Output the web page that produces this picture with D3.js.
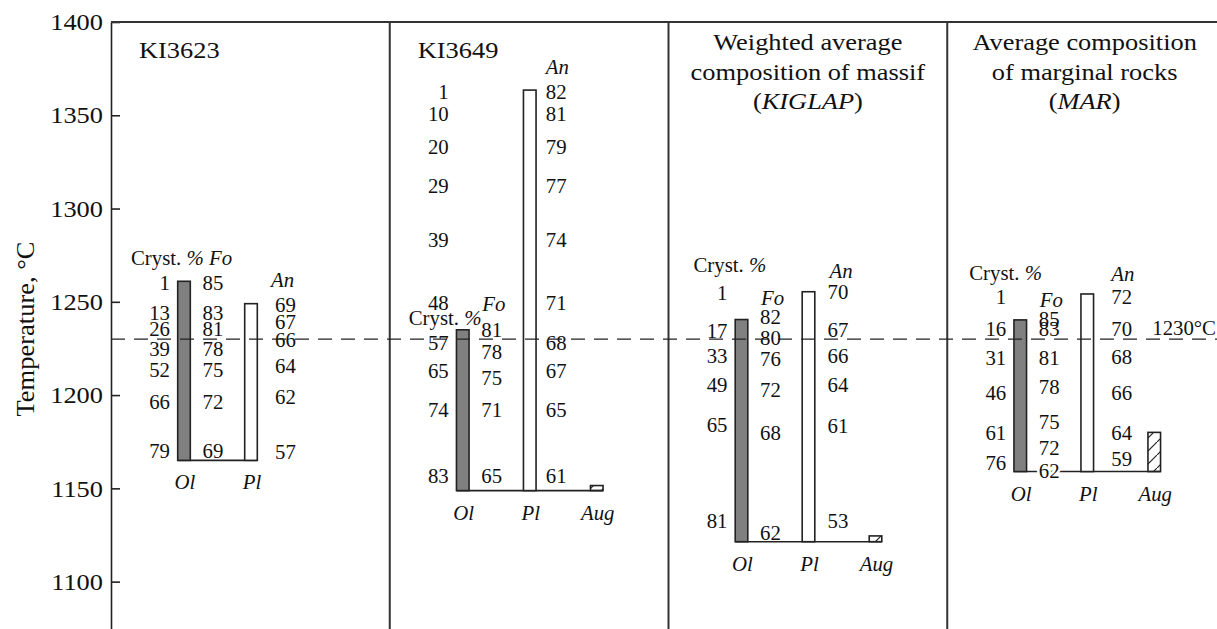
<!DOCTYPE html>
<html>
<head>
<meta charset="utf-8">
<script src="https://cdn.jsdelivr.net/npm/d3@7"></script>
<style>
  html, body { margin: 0; padding: 0; background: #fff; }
  svg { display: block; font-family: "Liberation Serif", "Times New Roman", Times, serif; }
</style>
</head>
<body>
<svg id="chart" width="1217" height="629"></svg>
<script>
// ---- data ---------------------------------------------------------------
const panelIds = ["KI3623", "KI3649", "KIGLAP", "MAR"];
const minerals = ["Ol", "Pl", "Aug"];
const tempTicks = [1100, 1150, 1200, 1250, 1300, 1350, 1400];
const refTemp = 1230;

// liquidus (top) and end (base) temperatures of each mineral column, °C
const olTopT  = [1261, 1235, 1240.5, 1240.3];
const plTopT  = [1249, 1363.5, 1255.4, 1254.2];
const augTopT = [null, 1151.5, 1124.5, 1180];
const baseT   = [1165, 1148.8, 1121.4, 1159];

// degree of crystallization (%) and the temperatures it is reached at
const crystPct = [
  [1, 13, 26, 39, 52, 66, 79],
  [1, 10, 20, 29, 39, 48, 57, 65, 74, 83],
  [1, 17, 33, 49, 65, 81],
  [1, 16, 31, 46, 61, 76]
];
const crystT = [
  [1260.3, 1244, 1235.4, 1224.7, 1213.4, 1196.5, 1170.2],
  [1362.6, 1350.7, 1333.2, 1312.3, 1283.2, 1249.5, 1227.8, 1213.1, 1192, 1156.7],
  [1254.6, 1234.4, 1221, 1205.5, 1184, 1132.7],
  [1252.4, 1235.2, 1219.7, 1201, 1179.5, 1163.8]
];

// olivine composition (Fo) along the column
const foValues = [
  [85, 83, 81, 78, 75, 72, 69],
  [81, 78, 75, 71, 65],
  [82, 80, 76, 72, 68, 62],
  [85, 83, 81, 78, 75, 72, 62]
];
const foT = [
  [1260.3, 1244, 1235.4, 1224.7, 1213.4, 1196.5, 1170.2],
  [1234.9, 1223.3, 1209, 1192, 1156.7],
  [1242, 1230.5, 1219.2, 1202.8, 1179.9, 1126.3],
  [1240.8, 1235.2, 1219.7, 1204.2, 1185.8, 1171.5, 1159.5]
];

// plagioclase composition (An) along the column
const anValues = [
  [69, 67, 66, 64, 62, 57],
  [82, 81, 79, 77, 74, 71, 68, 67, 65, 61],
  [70, 67, 66, 64, 61, 53],
  [72, 70, 68, 66, 64, 59]
];
const anT = [
  [1248.3, 1239.4, 1229.6, 1215.6, 1199.2, 1169.7],
  [1362.6, 1350.7, 1333.2, 1312.3, 1283.2, 1249.5, 1227.8, 1213.1, 1192, 1156.7],
  [1255.1, 1234.9, 1221, 1205.5, 1183.5, 1132.7],
  [1252.4, 1235.2, 1220.3, 1201, 1179.5, 1165.6]
];

// ---- layout ---------------------------------------------------------------
const W = 1217, H = 629;
const axisX = 111, topY = 22;
const barW = 12.6;
const ink = "#222";
const txt = "#111";
const wide = 1.1;      // horizontal stretch of the serif lettering
const valWide = 1.04;

const panelLayout = [
  { title: [{ t: "KI3623" }], titleMode: "left",
    crystHdr: { dx: -53, y: 258, withFo: true }, foHdrY: null, anHdr: { dx: 20, y: 280 }, anDx: 24 },
  { title: [{ t: "KI3649" }], titleMode: "left",
    crystHdr: { dx: -54, y: 318 }, foHdrY: 304, anHdr: { dx: 16, y: 67 }, anDx: 16 },
  { title: [{ t: "Weighted average" }, { t: "composition of massif" }, { t: "(", i: "KIGLAP", e: ")" }], titleMode: "center",
    crystHdr: { dx: -48, y: 265 }, foHdrY: 298, anHdr: { dx: 21, y: 271 }, anDx: 19 },
  { title: [{ t: "Average composition" }, { t: "of marginal rocks" }, { t: "(", i: "MAR", e: ")" }], titleMode: "center",
    crystHdr: { dx: -51, y: 273 }, foHdrY: 300, anHdr: { dx: 24, y: 274 }, anDx: 24 }
];

const svg = d3.select("#chart");

const y = d3.scaleLinear().domain([1074.6, 1400]).range([H, topY]);
const xPanel = d3.scaleBand().domain(panelIds).range([axisX, 1226]).padding(0);
const xMin = d3.scalePoint().domain(minerals).range([73, 207]);

// text placed at (x, y) and stretched horizontally about that point
function stext(g, x, yy, size, anchor, sx) {
  return g.append("text")
    .attr("transform", `translate(${x},${yy}) scale(${sx},1)`)
    .attr("text-anchor", anchor)
    .attr("font-size", size).attr("fill", txt);
}

// hatch for augite
const defs = svg.append("defs");
const pat = defs.append("pattern")
  .attr("id", "hatch").attr("patternUnits", "userSpaceOnUse")
  .attr("width", 13).attr("height", 13);
pat.append("path").attr("d", "M-1,14 L14,-1").attr("stroke", ink).attr("stroke-width", 1.2);

// ---- axis ---------------------------------------------------------------
const axis = d3.axisLeft(y)
  .tickValues(tempTicks)
  .tickFormat(d3.format("d"))
  .tickSizeInner(-9)
  .tickSizeOuter(0)
  .tickPadding(8);

const gAxis = svg.append("g").attr("transform", `translate(${axisX},0)`).call(axis);
gAxis.select(".domain").attr("stroke", ink).attr("stroke-width", 1.6);
gAxis.selectAll(".tick line").attr("stroke", ink).attr("stroke-width", 1.6);
gAxis.selectAll(".tick text")
  .attr("fill", txt).attr("font-size", 24)
  .attr("font-family", "'Liberation Serif', 'Times New Roman', serif")
  .attr("transform", `scale(${wide},1)`)
  .attr("x", -8 / wide);

stext(svg, 34, 329, 25, "middle", 1.06)
  .attr("transform", `translate(34,329) rotate(-90) scale(1.06,1)`)
  .text("Temperature, °C");

// top frame and panel dividers
svg.append("line")
  .attr("x1", axisX).attr("x2", W).attr("y1", y(1400)).attr("y2", y(1400))
  .attr("stroke", "#333").attr("stroke-width", 2);
panelIds.slice(1).forEach(id => {
  const x = xPanel(id);
  svg.append("line")
    .attr("x1", x).attr("x2", x).attr("y1", y(1400)).attr("y2", H)
    .attr("stroke", "#333").attr("stroke-width", 2);
});

// ---- panels -------------------------------------------------------------
function label(g, x, yy, s, anchor, italic) {
  return stext(g, x, yy, 20, anchor, valWide)
    .attr("dy", "0.35em")
    .attr("font-style", italic ? "italic" : null)
    .text(s);
}

panelIds.forEach((id, p) => {
  const g = svg.append("g").attr("class", "panel");
  const x0 = xPanel(id);
  const L = panelLayout[p];
  const cx = m => x0 + xMin(m);
  const yBase = y(baseT[p]);

  // title
  if (L.titleMode === "left") {
    stext(g, x0 + 28, 58, 24, "start", wide).text(L.title[0].t);
  } else {
    const tc = x0 + xPanel.bandwidth() / 2 - (p === 3 ? 2 : 0);
    L.title.forEach((ln, k) => {
      const t = stext(g, tc, 50 + k * 29.5, 24, "middle", wide);
      t.append("tspan").text(ln.t);
      if (ln.i) {
        t.append("tspan").attr("font-style", "italic").text(ln.i);
        t.append("tspan").text(ln.e);
      }
    });
  }

  // base line joining the columns
  const tops = [olTopT, plTopT, augTopT];
  const present = minerals.filter((m, k) => tops[k][p] != null);
  g.append("line")
    .attr("x1", cx(present[0]) - barW / 2)
    .attr("x2", cx(present[present.length - 1]) + barW / 2)
    .attr("y1", yBase).attr("y2", yBase)
    .attr("stroke", ink).attr("stroke-width", 1.6);

  // columns
  const bars = [
    { m: "Ol", top: olTopT[p], fill: "#808080" },
    { m: "Pl", top: plTopT[p], fill: "#fff" },
    { m: "Aug", top: augTopT[p], fill: "url(#hatch)" }
  ].filter(d => d.top != null);

  g.selectAll("rect.col").data(bars).join("rect")
    .attr("class", "col")
    .attr("x", d => cx(d.m) - barW / 2)
    .attr("y", d => y(d.top))
    .attr("width", barW)
    .attr("height", d => yBase - y(d.top))
    .attr("fill", d => d.fill)
    .attr("stroke", ink).attr("stroke-width", 1.6);

  // column names
  bars.forEach(d => label(g, cx(d.m) + 1, yBase + 22, d.m, "middle", true));

  // crystallization degree
  crystPct[p].forEach((v, k) => label(g, cx("Ol") - 14, y(crystT[p][k]), v, "end"));

  // Fo values
  foValues[p].forEach((v, k) => {
    const t = label(g, cx("Ol") + 29, y(foT[p][k]), v, "middle");
    if (Math.abs(foT[p][k] - baseT[p]) < 4) {
      t.attr("stroke", "#fff").attr("stroke-width", 5).attr("paint-order", "stroke");
    }
  });

  // An values
  anValues[p].forEach((v, k) => label(g, cx("Pl") + L.anDx, y(anT[p][k]), v, "start"));

  // headers
  const ch = stext(g, cx("Ol") + L.crystHdr.dx, L.crystHdr.y, 20, "start", valWide).attr("dy", "0.35em");
  ch.append("tspan").text("Cryst. ");
  ch.append("tspan").attr("font-style", "italic").text("%");
  if (L.crystHdr.withFo) {
    ch.append("tspan").attr("font-style", "italic").text(" Fo");
  }
  if (L.foHdrY != null) {
    label(g, cx("Ol") + 31, L.foHdrY, "Fo", "middle", true);
  }
  label(g, cx("Pl") + L.anHdr.dx, L.anHdr.y, "An", "start", true);
});

// reference isotherm
svg.append("line")
  .attr("x1", axisX).attr("x2", W)
  .attr("y1", y(refTemp)).attr("y2", y(refTemp))
  .attr("stroke", ink).attr("stroke-width", 1.3)
  .attr("stroke-dasharray", "14,9");

stext(svg, W - 1, y(refTemp) - 11, 20, "end", valWide)
  .attr("dy", "0.35em")
  .text(refTemp + "°C");
</script>
</body>
</html>
